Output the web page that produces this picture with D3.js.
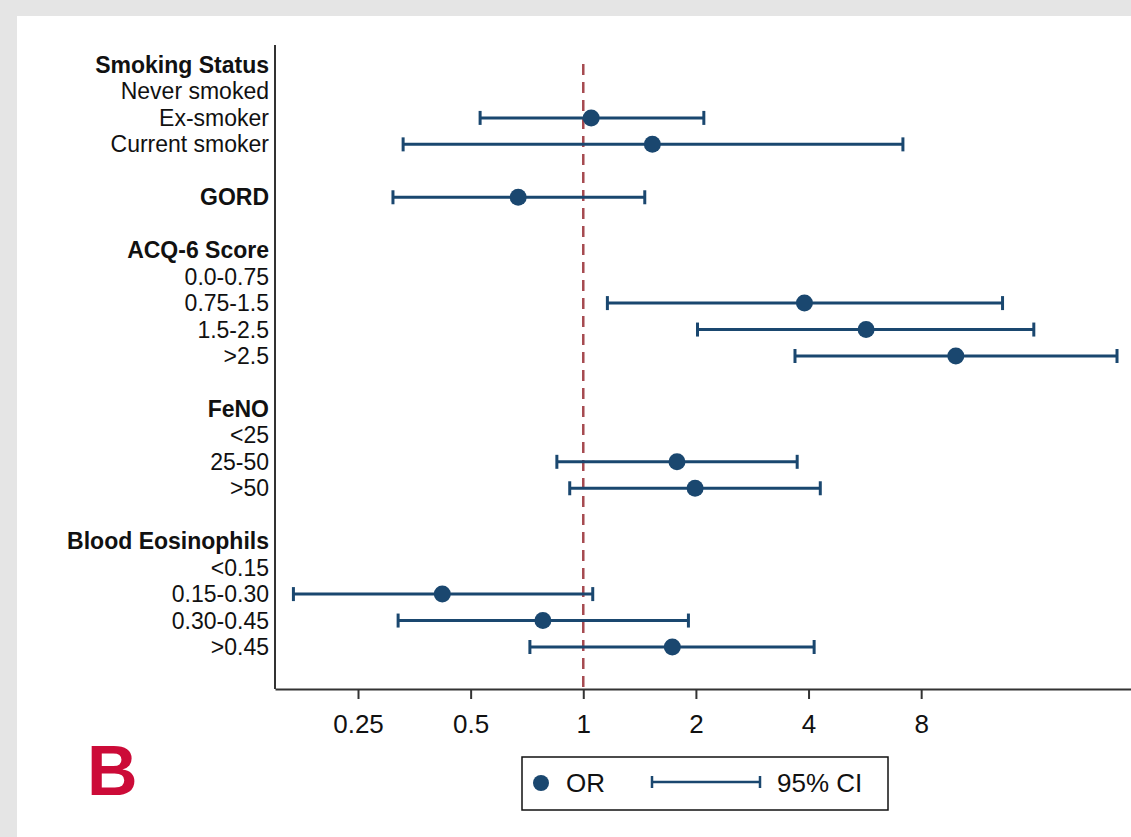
<!DOCTYPE html>
<html>
<head>
<meta charset="utf-8">
<script src="https://cdn.jsdelivr.net/npm/d3@7"></script>
<style>
  html, body { margin: 0; padding: 0; background: #e5e5e5; }
  svg { display: block; }
</style>
</head>
<body>
<div id="chart"></div>
<script>
// rows top to bottom, "" = spacer row
const labels = ["Smoking Status", "Never smoked", "Ex-smoker", "Current smoker", "",
  "GORD", "",
  "ACQ-6 Score", "0.0-0.75", "0.75-1.5", "1.5-2.5", ">2.5", "",
  "FeNO", "<25", "25-50", ">50", "",
  "Blood Eosinophils", "<0.15", "0.15-0.30", "0.30-0.45", ">0.45"];
const headers = ["Smoking Status", "GORD", "ACQ-6 Score", "FeNO", "Blood Eosinophils"];

const orValues = [null, null, 1.05, 1.53, null,
  0.67, null,
  null, null, 3.9, 5.7, 9.9, null,
  null, null, 1.78, 1.99, null,
  null, null, 0.42, 0.78, 1.73];
const ciLower = [null, null, 0.53, 0.33, null,
  0.31, null,
  null, null, 1.16, 2.02, 3.68, null,
  null, null, 0.85, 0.92, null,
  null, null, 0.168, 0.32, 0.72];
const ciUpper = [null, null, 2.1, 7.15, null,
  1.46, null,
  null, null, 13.2, 16.0, 26.7, null,
  null, null, 3.73, 4.3, null,
  null, null, 1.06, 1.91, 4.14];

const xTicks = [0.25, 0.5, 1, 2, 4, 8];

const W = 1131, H = 837;
const navy = "#1a476f";
const font = "'Liberation Sans', Arial, sans-serif";

const svg = d3.select("#chart").append("svg")
  .attr("width", W).attr("height", H);

svg.append("rect").attr("width", W).attr("height", H).attr("fill", "#e5e5e5");
svg.append("rect").attr("x", 17).attr("y", 16).attr("width", W - 17).attr("height", H - 16)
  .attr("fill", "#fff");

const plotLeft = 275, plotRight = 1131, plotTop = 45, plotBottom = 689;

const x = d3.scaleLog().base(2).domain([0.15, 29.1]).range([plotLeft, plotRight]);
const y = d3.scaleLinear().domain([0, labels.length - 1]).range([65, 647]);

const rows = labels.map((label, i) => ({
  label, i,
  or: orValues[i], lo: ciLower[i], hi: ciUpper[i],
  bold: headers.includes(label)
}));

// reference line at OR = 1
svg.append("line")
  .attr("x1", x(1)).attr("x2", x(1))
  .attr("y1", 64).attr("y2", plotBottom)
  .attr("stroke", "#a64a50").attr("stroke-width", 2.5)
  .attr("stroke-dasharray", "11,7");

// y axis line
svg.append("line")
  .attr("x1", plotLeft).attr("x2", plotLeft)
  .attr("y1", plotTop).attr("y2", plotBottom)
  .attr("stroke", "#333").attr("stroke-width", 2);

// x axis
const xAxis = svg.append("g")
  .attr("transform", `translate(0,${plotBottom})`)
  .call(d3.axisBottom(x).tickValues(xTicks).tickFormat(d => String(d))
    .tickSize(10).tickSizeOuter(0).tickPadding(16));
xAxis.select(".domain").attr("stroke", "#333").attr("stroke-width", 2);
xAxis.selectAll(".tick line").attr("stroke", "#333").attr("stroke-width", 2);
xAxis.selectAll(".tick text").attr("font-family", font).attr("font-size", 26).attr("fill", "#111");

// row labels
svg.append("g").selectAll("text")
  .data(rows.filter(d => d.label !== ""))
  .join("text")
  .attr("x", 269).attr("y", d => y(d.i))
  .attr("text-anchor", "end").attr("dominant-baseline", "central")
  .attr("font-family", font).attr("font-size", 23)
  .attr("font-weight", d => d.bold ? "bold" : "normal")
  .attr("fill", "#111")
  .text(d => d.label);

const est = rows.filter(d => d.or !== null);
const capH = 7;

// confidence intervals
const ci = svg.append("g").attr("stroke", navy).attr("stroke-width", 3);
ci.selectAll(".ci").data(est).join("line")
  .attr("x1", d => x(d.lo)).attr("x2", d => x(d.hi))
  .attr("y1", d => y(d.i)).attr("y2", d => y(d.i));
ci.selectAll(".capl").data(est).join("line")
  .attr("x1", d => x(d.lo)).attr("x2", d => x(d.lo))
  .attr("y1", d => y(d.i) - capH).attr("y2", d => y(d.i) + capH);
ci.selectAll(".caph").data(est).join("line")
  .attr("x1", d => x(d.hi)).attr("x2", d => x(d.hi))
  .attr("y1", d => y(d.i) - capH).attr("y2", d => y(d.i) + capH);

// point estimates
svg.append("g").selectAll("circle").data(est).join("circle")
  .attr("cx", d => x(d.or)).attr("cy", d => y(d.i))
  .attr("r", 8.5).attr("fill", navy);

// legend
const lg = svg.append("g").attr("transform", "translate(522,757)");
lg.append("rect").attr("width", 366).attr("height", 53)
  .attr("fill", "#fff").attr("stroke", "#111").attr("stroke-width", 1.5);
lg.append("circle").attr("cx", 19).attr("cy", 26).attr("r", 8).attr("fill", navy);
lg.append("text").attr("x", 44).attr("y", 26).attr("dominant-baseline", "central")
  .attr("font-family", font).attr("font-size", 26).attr("fill", "#111").text("OR");
const lgl = lg.append("g").attr("stroke", navy).attr("stroke-width", 2.5);
lgl.append("line").attr("x1", 130).attr("x2", 238).attr("y1", 25).attr("y2", 25);
lgl.append("line").attr("x1", 130).attr("x2", 130).attr("y1", 19).attr("y2", 31);
lgl.append("line").attr("x1", 238).attr("x2", 238).attr("y1", 19).attr("y2", 31);
lg.append("text").attr("x", 255).attr("y", 26).attr("dominant-baseline", "central")
  .attr("font-family", font).attr("font-size", 26).attr("fill", "#111").text("95% CI");

// panel letter
svg.append("text").attr("x", 87).attr("y", 795)
  .attr("font-family", font).attr("font-size", 70).attr("font-weight", "bold")
  .attr("fill", "#cc0b38").text("B");
</script>
</body>
</html>
